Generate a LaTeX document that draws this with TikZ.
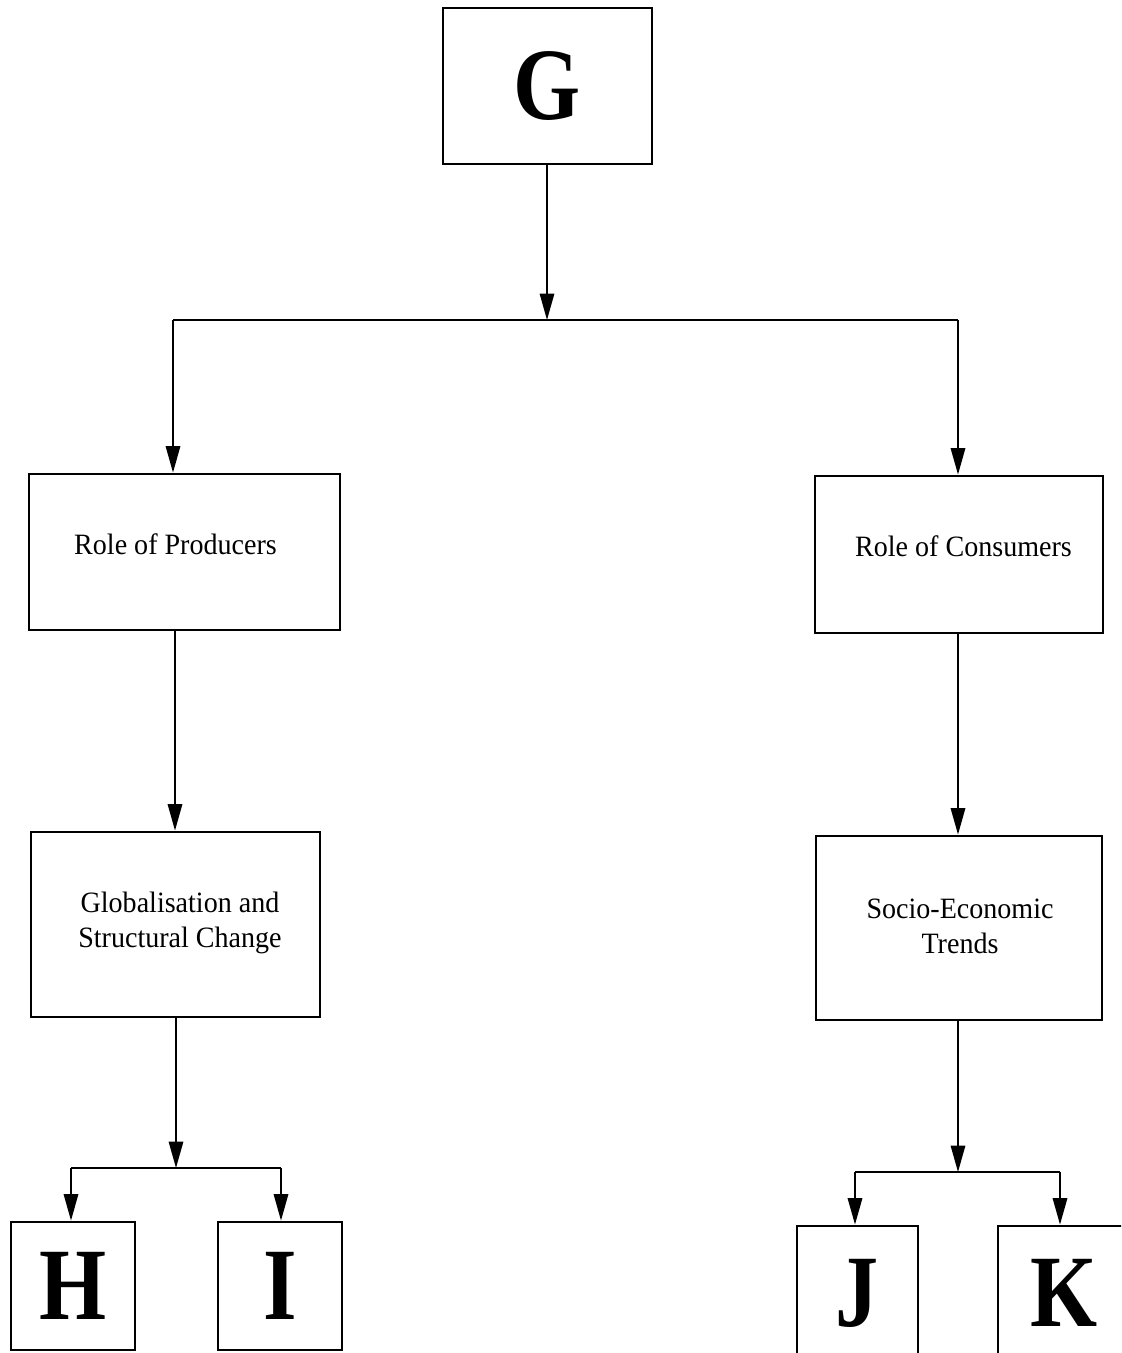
\documentclass[tikz,border=0pt]{standalone}
\usepackage{fontspec}
\setmainfont{Liberation Serif}[FakeStretch=0.95]
\newfontfamily\letterfont{Liberation Serif}[FakeStretch=0.84]
\usetikzlibrary{arrows.meta}
\begin{document}
\begin{tikzpicture}[x=0.025cm,y=-0.025cm,
  box/.style={draw, line width=2pt, inner sep=0pt, align=center},
  label/.style={inner sep=0pt, align=center, font=\fontsize{21}{25}\selectfont},
  letter/.style={font=\letterfont\bfseries\fontsize{73}{80}\selectfont},
  conn/.style={line width=1.3pt, -{Triangle[length=0.66cm,width=0.36cm]}},
  bar/.style={line width=1.7pt}]
\useasboundingbox (0,0) rectangle (1121,1353);
\clip (0,0) rectangle (1121,1353);

% top box
\node[box, letter, minimum width=5.225cm, minimum height=3.9cm] (G) at (547.5,86) {G};

% second level
\node[box, minimum width=7.775cm, minimum height=3.9cm] (prod) at (184.5,552) {};
\node[label] (prodtxt) at (175.5,544) {Role of Producers};
\node[box, minimum width=7.2cm, minimum height=3.925cm] (cons) at (959,554.5) {};
\node[label] (constxt) at (963.5,546) {Role of Consumers};

% third level
\node[box, minimum width=7.225cm, minimum height=4.625cm] (glob) at (175.5,924.5) {};
\node[label] (globtxt) at (180,923) {Globalisation and\\Structural Change};
\node[box, minimum width=7.15cm, minimum height=4.6cm] (socio) at (959,928) {};
\node[label] (sociotxt) at (960,926) {Socio-Economic\\Trends};

% bottom boxes
\node[box, letter, minimum width=3.1cm, minimum height=3.2cm] (H) at (73,1286) {H};
\node[box, letter, minimum width=3.1cm, minimum height=3.2cm] (I) at (280,1286) {I};
\node[box, letter, minimum width=3.025cm, minimum height=3.35cm] (J) at (857.5,1293) {J};
\node[box, letter, minimum width=3.3cm, minimum height=3.35cm] (K) at (1064,1293) {K};

% junction points
\coordinate (j0) at (547,320);
\coordinate (j0l) at (173,320);
\coordinate (j0r) at (958,320);
\coordinate (j1) at (176,1168);
\coordinate (j1l) at (71,1168);
\coordinate (j1r) at (281,1168);
\coordinate (j2) at (958,1172);
\coordinate (j2l) at (855,1172);
\coordinate (j2r) at (1060,1172);

% connectors
\draw[conn] (G.south -| j0) -- (j0);
\draw[bar] (j0l) -- (j0r);
\draw[conn] (j0l) -- (j0l |- prod.north);
\draw[conn] (j0r) -- (j0r |- cons.north);

\draw[conn] (prod.south -| j0l) ++(2,0) coordinate (p1) -- (p1 |- glob.north);
\draw[conn] (cons.south -| j0r) -- (j0r |- socio.north);

\draw[conn] (glob.south -| j1) -- (j1);
\draw[bar] (j1l) -- (j1r);
\draw[conn] (j1l) -- (j1l |- H.north);
\draw[conn] (j1r) -- (j1r |- I.north);

\draw[conn] (socio.south -| j2) -- (j2);
\draw[bar] (j2l) -- (j2r);
\draw[conn] (j2l) -- (j2l |- J.north);
\draw[conn] (j2r) -- (j2r |- K.north);
\end{tikzpicture}
\end{document}
